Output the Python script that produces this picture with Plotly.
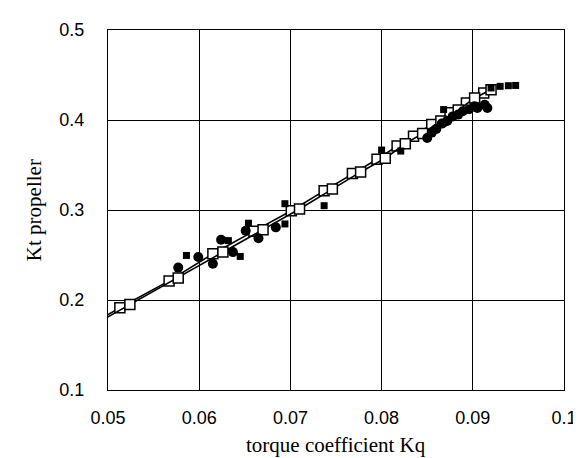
import plotly.graph_objects as go

# Fitted series A (open squares, solid line)
fit_a_kq = [0.0465, 0.0513, 0.0567, 0.0615, 0.0660, 0.0701, 0.0737, 0.0768, 0.0795, 0.0817, 0.0835, 0.0855, 0.0875, 0.0893, 0.0912]
fit_a_kt = [0.163, 0.1914, 0.2212, 0.2514, 0.2765, 0.2992, 0.3213, 0.3405, 0.3564, 0.3710, 0.3820, 0.3950, 0.4080, 0.4190, 0.4300]

# Fitted series B (open squares, solid line)
fit_b_kq = [0.0475, 0.0524, 0.0577, 0.0626, 0.0670, 0.0710, 0.0746, 0.0777, 0.0804, 0.0826, 0.0845, 0.0865, 0.0884, 0.0902, 0.0920]
fit_b_kt = [0.167, 0.1950, 0.2245, 0.2532, 0.2780, 0.3011, 0.3232, 0.3423, 0.3575, 0.3737, 0.3850, 0.3990, 0.4110, 0.4244, 0.4337]

# Measured data, filled circles
circ_kq = [0.0577, 0.0599, 0.0615, 0.0624, 0.0637, 0.0651, 0.0665, 0.0684,
           0.0850, 0.0855, 0.0860, 0.0866, 0.0872, 0.0878, 0.0884, 0.0889, 0.0896, 0.0902, 0.0905, 0.0913, 0.0916]
circ_kt = [0.2360, 0.2477, 0.2403, 0.2670, 0.2532, 0.2770, 0.2686, 0.2807,
           0.3800, 0.3860, 0.3900, 0.3960, 0.3990, 0.4040, 0.4060, 0.4097, 0.4120, 0.4152, 0.4134, 0.4170, 0.4134]

# Measured data, small filled squares
sq_kq = [0.0586, 0.0632, 0.0645, 0.0654, 0.0694, 0.0694, 0.0737, 0.0800, 0.0821, 0.0868, 0.0920, 0.0930, 0.0939, 0.0947]
sq_kt = [0.2495, 0.2660, 0.2484, 0.2853, 0.2845, 0.3070, 0.3048, 0.3666, 0.3655, 0.4116, 0.4356, 0.4374, 0.4381, 0.4384]

x_ticks = [0.05, 0.06, 0.07, 0.08, 0.09, 0.1]
x_tick_labels = ["0.05", "0.06", "0.07", "0.08", "0.09", "0.1"]
y_ticks = [0.1, 0.2, 0.3, 0.4, 0.5]
y_tick_labels = ["0.1", "0.2", "0.3", "0.4", "0.5"]

fig = go.Figure()

open_sq = dict(symbol="square", size=10, color="white", line=dict(color="black", width=1.5))
fig.add_trace(go.Scatter(x=fit_a_kq, y=fit_a_kt, mode="lines+markers",
                         line=dict(color="black", width=1.6), marker=open_sq))
fig.add_trace(go.Scatter(x=fit_b_kq, y=fit_b_kt, mode="lines+markers",
                         line=dict(color="black", width=1.6), marker=open_sq))
fig.add_trace(go.Scatter(x=circ_kq, y=circ_kt, mode="markers",
                         marker=dict(symbol="circle", size=10, color="black")))
fig.add_trace(go.Scatter(x=sq_kq, y=sq_kt, mode="markers",
                         marker=dict(symbol="square", size=7, color="black")))

axis_common = dict(showline=True, mirror=True, linecolor="black", linewidth=1,
                   showgrid=True, gridcolor="black", gridwidth=1, zeroline=False,
                   ticks="", tickfont=dict(family="Liberation Sans, Arial", size=18, color="black"))

fig.update_layout(
    width=581, height=458,
    margin=dict(l=100, r=19, t=20, b=76),
    paper_bgcolor="white", plot_bgcolor="white",
    showlegend=False,
    xaxis=dict(range=[0.05, 0.1], tickvals=x_ticks, ticktext=x_tick_labels,
               ticklabelstandoff=11, **axis_common),
    yaxis=dict(range=[0.1, 0.5], tickvals=y_ticks, ticktext=y_tick_labels,
               ticklabelstandoff=19, **axis_common),
    annotations=[
        dict(text="torque coefficient Kq", xref="paper", yref="paper", x=0.5, y=-0.152,
             xanchor="center", yanchor="middle", showarrow=False,
             font=dict(family="Liberation Serif, Times New Roman", size=21, color="black")),
        dict(text="Kt propeller", xref="paper", yref="paper", x=-0.162, y=0.5,
             xanchor="center", yanchor="middle", showarrow=False, textangle=-90,
             font=dict(family="Liberation Serif, Times New Roman", size=21, color="black")),
    ],
)

fig.write_html("out.html")
